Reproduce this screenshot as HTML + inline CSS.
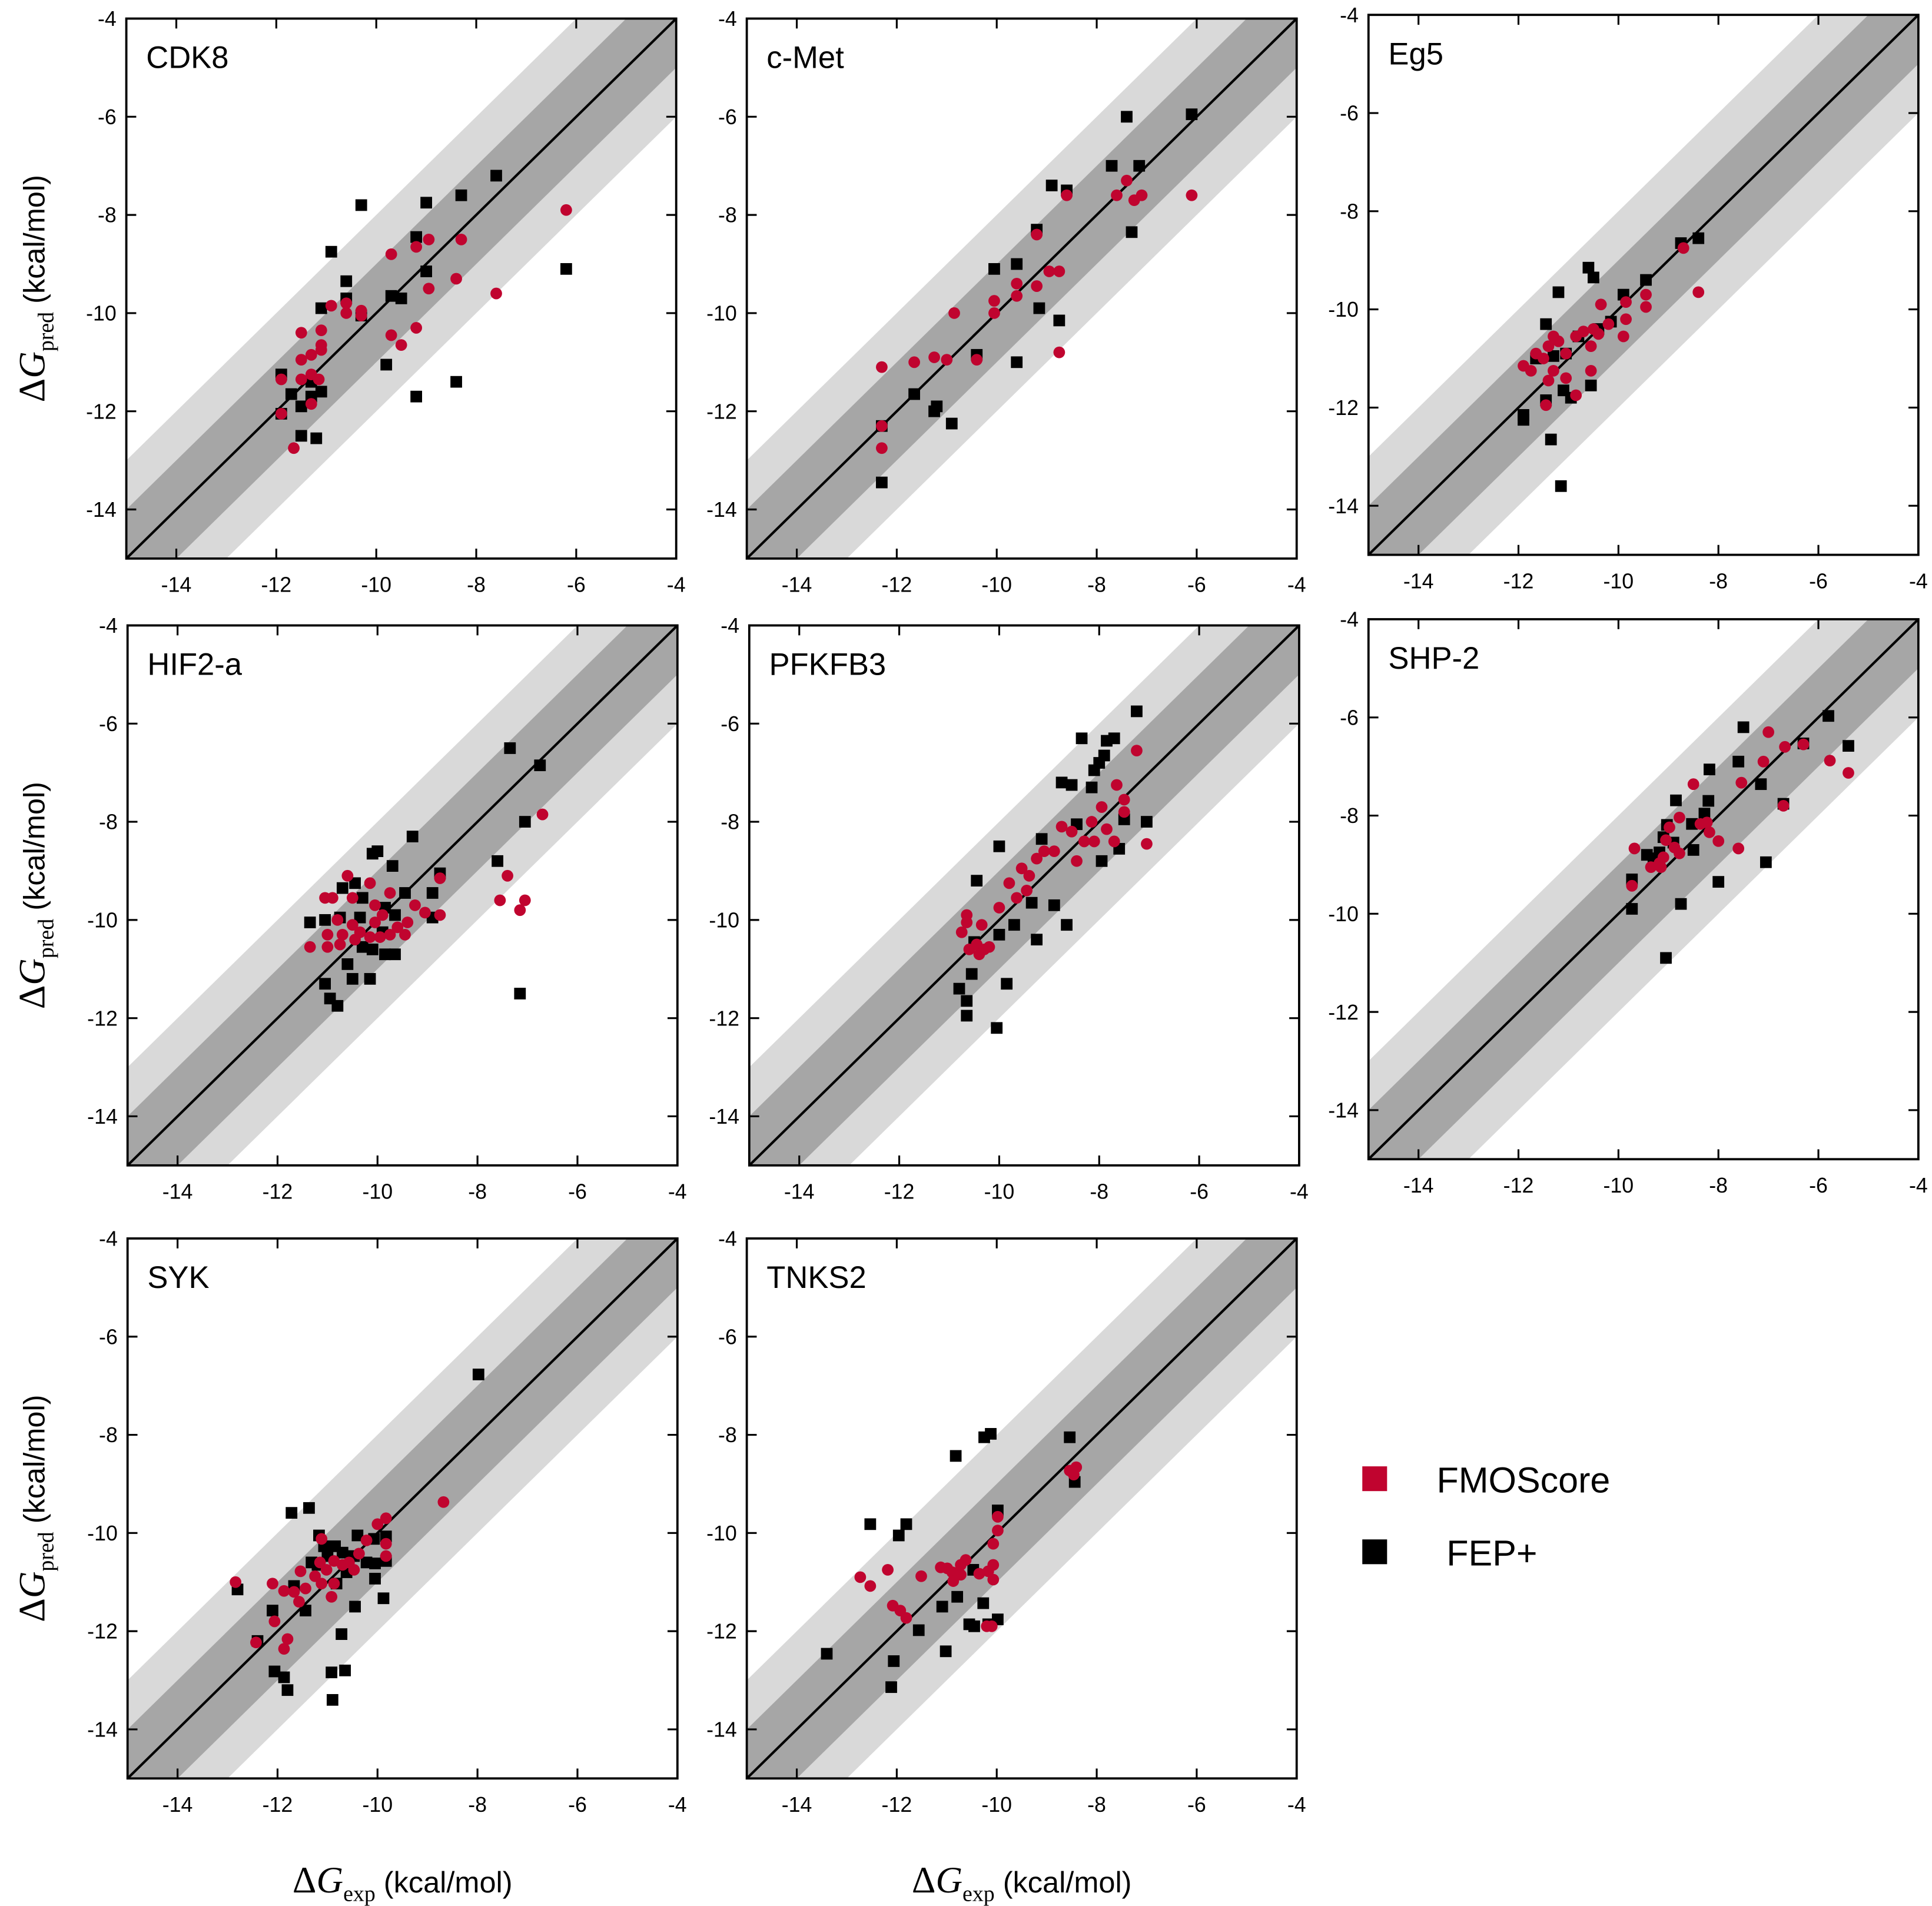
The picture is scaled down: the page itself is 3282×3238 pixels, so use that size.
<!DOCTYPE html>
<html><head><meta charset="utf-8"><style>
html,body{margin:0;padding:0;background:#fff}
svg{display:block}
</style></head><body>
<svg id="fig" xmlns="http://www.w3.org/2000/svg" width="3282" height="3238" viewBox="0 0 1560 1539" preserveAspectRatio="none">
<rect x="0" y="0" width="1560" height="1539" fill="#fff"/>
<g>
<rect x="1100" y="1184" width="20" height="20" fill="#c0042f"/>
<text x="1160" y="1205" font-family="Liberation Sans, sans-serif" font-size="29">FMOScore</text>
<rect x="1100" y="1243" width="20" height="20" fill="#000"/>
<text x="1168" y="1255" font-family="Liberation Sans, sans-serif" font-size="29" dy="9">FEP+</text>
</g>
</svg>
<script>
const ticks = [-14,-12,-10,-8,-6,-4];
const tickLabelsY = [-4,-6,-8,-10,-12,-14];
const panelNames = ["CDK8","c-Met","Eg5","HIF2-a","PFKFB3","SHP-2","SYK","TNKS2"];

const cdk8Fep = [[-7.6,-7.2],[-8.3,-7.6],[-10.3,-7.8],[-9.0,-7.75],[-9.2,-8.45],[-10.9,-8.75],[-10.6,-9.35],[-10.6,-9.7],[-9.0,-9.15],[-9.7,-9.65],[-9.5,-9.7],[-11.1,-9.9],[-9.8,-11.05],[-9.2,-11.7],[-8.4,-11.4],[-6.2,-9.1],[-11.9,-11.25],[-11.7,-11.65],[-11.1,-11.6],[-11.5,-11.9],[-11.3,-11.7],[-11.5,-12.5],[-11.2,-12.55],[-11.9,-12.05],[-11.3,-11.4],[-10.3,-10.05]];
const cdk8Fmo = [[-6.2,-7.9],[-7.6,-9.6],[-8.3,-8.5],[-8.95,-8.5],[-9.2,-8.65],[-9.7,-8.8],[-8.95,-9.5],[-8.4,-9.3],[-9.2,-10.3],[-9.7,-10.45],[-9.5,-10.65],[-10.3,-9.95],[-10.3,-10.05],[-10.6,-10.0],[-10.9,-9.85],[-10.6,-9.8],[-11.1,-10.35],[-11.5,-10.4],[-11.1,-10.65],[-11.3,-10.85],[-11.1,-10.75],[-11.5,-10.95],[-11.5,-11.35],[-11.3,-11.25],[-11.15,-11.35],[-11.9,-11.35],[-11.9,-12.05],[-11.3,-11.85],[-11.65,-12.75]];

const cmetFep = [[-6.1,-5.95],[-7.4,-6.0],[-7.7,-7.0],[-7.15,-7.0],[-7.3,-8.35],[-8.6,-7.5],[-8.9,-7.4],[-9.2,-8.3],[-10.05,-9.1],[-9.6,-9.0],[-9.15,-9.9],[-8.75,-10.15],[-9.6,-11.0],[-10.4,-10.85],[-11.65,-11.65],[-11.2,-11.9],[-11.25,-12.0],[-10.9,-12.25],[-12.3,-12.3],[-12.3,-13.45]];
const cmetFmo = [[-6.1,-7.6],[-7.1,-7.6],[-7.25,-7.7],[-7.4,-7.3],[-7.6,-7.6],[-8.6,-7.6],[-9.2,-8.4],[-8.95,-9.15],[-8.75,-9.15],[-9.6,-9.4],[-9.6,-9.65],[-9.2,-9.45],[-10.05,-9.75],[-10.05,-10.0],[-8.75,-10.8],[-10.85,-10.0],[-10.4,-10.95],[-11.25,-10.9],[-11.0,-10.95],[-11.65,-11.0],[-12.3,-11.1],[-12.3,-12.3],[-12.3,-12.75]];

const eg5Fep = [[-8.4,-8.55],[-8.75,-8.65],[-10.6,-9.15],[-10.5,-9.35],[-11.2,-9.65],[-9.9,-9.7],[-9.45,-9.4],[-10.4,-10.4],[-10.15,-10.25],[-11.45,-10.3],[-10.8,-10.55],[-11.05,-10.9],[-11.3,-10.95],[-11.65,-11.0],[-10.55,-11.55],[-11.1,-11.65],[-10.95,-11.8],[-11.45,-11.85],[-11.9,-12.15],[-11.9,-12.25],[-11.35,-12.65],[-11.15,-13.6]];
const eg5Fmo = [[-8.4,-9.65],[-8.7,-8.75],[-9.45,-9.7],[-9.45,-9.95],[-9.85,-9.85],[-9.85,-10.2],[-9.9,-10.55],[-10.35,-9.9],[-10.2,-10.3],[-10.4,-10.5],[-10.5,-10.4],[-10.7,-10.45],[-10.85,-10.55],[-10.55,-10.75],[-11.05,-10.9],[-11.3,-10.55],[-11.2,-10.65],[-11.4,-10.75],[-11.65,-10.9],[-11.9,-11.15],[-11.5,-11.0],[-11.3,-11.25],[-11.4,-11.45],[-11.05,-11.4],[-10.55,-11.25],[-10.85,-11.75],[-11.45,-11.95],[-11.75,-11.25]];

const hifFep = [[-7.35,-6.5],[-6.75,-6.85],[-7.05,-8.0],[-7.6,-8.8],[-7.15,-11.5],[-9.3,-8.3],[-10.1,-8.65],[-10.0,-8.6],[-8.75,-9.05],[-9.7,-8.9],[-10.45,-9.25],[-10.7,-9.35],[-8.9,-9.45],[-9.45,-9.45],[-10.3,-9.55],[-9.85,-9.75],[-9.65,-9.9],[-10.35,-9.95],[-10.75,-9.95],[-11.05,-10.0],[-11.35,-10.05],[-9.9,-10.25],[-10.1,-10.6],[-9.85,-10.7],[-9.65,-10.7],[-10.3,-10.55],[-10.6,-10.9],[-10.5,-11.2],[-10.15,-11.2],[-11.05,-11.3],[-10.95,-11.6],[-10.8,-11.75],[-8.9,-9.95]];
const hifFmo = [[-6.7,-7.85],[-7.4,-9.1],[-7.55,-9.6],[-7.05,-9.6],[-7.15,-9.8],[-8.75,-9.15],[-8.75,-9.9],[-9.25,-9.7],[-9.4,-10.05],[-9.6,-10.15],[-9.45,-10.3],[-9.75,-10.3],[-10.05,-10.05],[-10.35,-10.25],[-10.5,-10.1],[-10.8,-10.0],[-10.7,-10.3],[-11.0,-10.3],[-11.05,-9.55],[-10.9,-9.55],[-10.5,-9.55],[-10.6,-9.1],[-10.15,-9.25],[-9.75,-9.45],[-10.05,-9.7],[-11.35,-10.55],[-11.0,-10.55],[-10.75,-10.5],[-10.45,-10.4],[-10.15,-10.35],[-9.95,-10.35],[-9.05,-9.85],[-9.9,-9.9]];

const pfkFep = [[-7.25,-5.75],[-7.7,-6.3],[-8.35,-6.3],[-7.85,-6.35],[-7.9,-6.65],[-8.0,-6.8],[-8.1,-6.95],[-8.15,-7.3],[-8.75,-7.2],[-8.55,-7.25],[-7.05,-8.0],[-7.5,-7.95],[-8.45,-8.05],[-7.95,-8.8],[-7.6,-8.55],[-9.15,-8.35],[-10.0,-8.5],[-10.45,-9.2],[-8.65,-10.1],[-8.9,-9.7],[-9.35,-9.65],[-9.7,-10.1],[-9.25,-10.4],[-10.0,-10.3],[-10.5,-10.45],[-10.55,-11.1],[-10.8,-11.4],[-10.65,-11.65],[-10.65,-11.95],[-9.85,-11.3],[-10.05,-12.2]];
const pfkFmo = [[-7.25,-6.55],[-7.05,-8.45],[-7.65,-7.25],[-7.5,-7.55],[-7.5,-7.8],[-7.95,-7.7],[-7.85,-8.15],[-7.7,-8.4],[-8.1,-8.4],[-8.3,-8.4],[-8.15,-8.0],[-8.55,-8.2],[-8.75,-8.1],[-8.45,-8.8],[-8.9,-8.6],[-9.1,-8.6],[-9.25,-8.75],[-9.4,-9.1],[-9.55,-8.95],[-9.8,-9.25],[-9.45,-9.4],[-9.65,-9.55],[-10.0,-9.75],[-10.35,-10.1],[-10.65,-9.9],[-10.65,-10.05],[-10.75,-10.25],[-10.45,-10.5],[-10.3,-10.6],[-10.6,-10.6],[-10.4,-10.7],[-10.2,-10.55]];

const shpFep = [[-5.8,-5.97],[-5.4,-6.58],[-6.3,-6.53],[-7.5,-6.2],[-7.6,-6.9],[-7.15,-7.36],[-6.7,-7.76],[-7.05,-8.95],[-8.18,-7.06],[-8.2,-7.7],[-8.28,-7.96],[-8.53,-8.17],[-8.85,-7.69],[-9.03,-8.19],[-9.1,-8.44],[-8.9,-8.55],[-8.5,-8.7],[-8.0,-9.35],[-8.75,-9.8],[-9.18,-8.75],[-9.43,-8.8],[-9.73,-9.3],[-9.73,-9.9],[-9.05,-10.9],[-9.3,-8.87]];
const shpFmo = [[-7.0,-6.3],[-6.67,-6.6],[-6.3,-6.55],[-5.77,-6.88],[-5.4,-7.13],[-7.1,-6.9],[-7.54,-7.33],[-8.5,-7.36],[-6.7,-7.8],[-7.6,-8.67],[-8.0,-8.52],[-8.18,-8.34],[-8.36,-8.17],[-8.23,-8.14],[-8.78,-8.04],[-8.98,-8.24],[-9.05,-8.5],[-8.88,-8.65],[-8.78,-8.77],[-9.1,-8.85],[-9.18,-8.97],[-9.35,-9.05],[-9.68,-8.67],[-9.73,-9.43],[-9.15,-9.05]];

const sykFep = [[-7.98,-6.77],[-11.37,-9.49],[-11.72,-9.59],[-12.8,-11.15],[-12.4,-12.2],[-12.1,-11.58],[-12.06,-12.82],[-11.87,-12.94],[-11.8,-13.2],[-10.9,-13.4],[-10.92,-12.84],[-10.65,-12.8],[-10.72,-12.06],[-9.88,-11.33],[-10.45,-11.5],[-9.83,-10.07],[-10.07,-10.12],[-10.4,-10.05],[-10.47,-10.47],[-10.7,-10.4],[-10.85,-10.27],[-11.07,-10.27],[-11.17,-10.05],[-11.0,-10.47],[-11.32,-10.6],[-11.2,-10.65],[-10.62,-10.8],[-10.82,-11.03],[-10.22,-10.6],[-10.05,-10.62],[-11.44,-11.58],[-11.67,-11.08],[-9.83,-10.57],[-10.05,-10.93]];
const sykFmo = [[-8.68,-9.37],[-9.83,-9.7],[-10.0,-9.82],[-9.83,-10.22],[-9.83,-10.47],[-10.22,-10.15],[-10.37,-10.42],[-10.47,-10.75],[-10.57,-10.6],[-10.7,-10.65],[-10.87,-10.57],[-11.02,-10.75],[-10.87,-11.03],[-10.92,-11.3],[-11.12,-11.03],[-11.15,-10.6],[-11.25,-10.88],[-11.44,-11.13],[-11.54,-10.78],[-11.67,-11.2],[-11.87,-11.18],[-12.1,-11.03],[-12.06,-11.8],[-11.8,-12.16],[-11.87,-12.36],[-12.43,-12.23],[-12.84,-11.0],[-11.12,-10.12],[-11.57,-11.4]];

const tnksFep = [[-10.12,-7.98],[-10.25,-8.05],[-10.82,-8.43],[-8.54,-8.05],[-8.44,-8.96],[-9.98,-9.54],[-12.53,-9.82],[-11.81,-9.82],[-11.96,-10.05],[-13.4,-12.46],[-12.06,-12.61],[-12.11,-13.14],[-11.56,-11.98],[-11.02,-12.41],[-11.09,-11.5],[-10.79,-11.3],[-10.47,-10.75],[-10.27,-11.43],[-10.55,-11.86],[-10.17,-11.86],[-9.98,-11.76],[-10.45,-11.9]];
const tnksFmo = [[-8.46,-8.81],[-8.54,-8.73],[-8.41,-8.66],[-9.98,-9.67],[-9.98,-9.95],[-10.07,-10.22],[-10.07,-10.65],[-10.07,-10.95],[-10.17,-10.78],[-10.35,-10.83],[-10.62,-10.55],[-10.72,-10.65],[-10.72,-10.85],[-10.89,-10.8],[-10.99,-10.72],[-11.12,-10.7],[-10.87,-10.98],[-11.51,-10.88],[-12.18,-10.75],[-12.08,-11.48],[-11.93,-11.58],[-11.81,-11.73],[-12.73,-10.9],[-12.53,-11.08],[-10.2,-11.9],[-10.1,-11.9]];

const fepSets = [cdk8Fep,cmetFep,eg5Fep,hifFep,pfkFep,shpFep,sykFep,tnksFep];
const fmoSets = [cdk8Fmo,cmetFmo,eg5Fmo,hifFmo,pfkFmo,shpFmo,sykFmo,tnksFmo];

const NS = "http://www.w3.org/2000/svg";
const svg = document.getElementById('fig');
const layout = [[102,15],[603,15],[1105,12],[103,505],[605,505],[1105,500],[103,1000],[603,1000]];
const PW = 444, PH = 436, VMIN = -15, VMAX = -4;
const RED = "#c0042f";
const slug = n => n.toLowerCase().replace(/[^a-z0-9]+/g,'-');

function mk(tag, attrs, parent){
  const e = document.createElementNS(NS, tag);
  for (const k in attrs) e.setAttribute(k, attrs[k]);
  parent.appendChild(e);
  return e;
}

panelNames.forEach((name, i) => {
  const [x0, y0] = layout[i];
  const sx = v => x0 + (v - VMIN) / (VMAX - VMIN) * PW;
  const sy = v => y0 + (VMAX - v) / (VMAX - VMIN) * PH;
  const s = slug(name);
  const g = mk('g', {}, svg);
  
  
  const cid = 'clip' + i;
  const cp = mk('clipPath', {id: cid}, g);
  mk('rect', {x: x0, y: y0, width: PW, height: PH}, cp);
  const inner = mk('g', {'clip-path': 'url(#' + cid + ')'}, g);
  const band = (d, fill, nm) => {
    const p = mk('polygon', {
      points: [[VMIN, VMIN + d], [VMAX, VMAX + d], [VMAX, VMAX - d], [VMIN, VMIN - d]].map(q => sx(q[0]) + ',' + sy(q[1])).join(' '),
      fill: fill
    }, inner);
    
    
  };
  band(2, '#d9d9d9', 'band-2kcal');
  band(1, '#a6a6a6', 'band-1kcal');
  const dl = mk('line', {x1: sx(VMIN), y1: sy(VMIN), x2: sx(VMAX), y2: sy(VMAX), stroke: '#000', 'stroke-width': 2}, inner);
  
  
  fepSets[i].forEach(p => {
    const r = mk('rect', {x: sx(p[0]) - 4.7, y: sy(p[1]) - 4.7, width: 9.4, height: 9.4, fill: '#000'}, inner);
    
    
  });
  fmoSets[i].forEach(p => {
    const c = mk('circle', {cx: sx(p[0]), cy: sy(p[1]), r: 4.7, fill: RED}, inner);
    
    
  });
  const fr = mk('rect', {x: x0, y: y0, width: PW, height: PH, fill: 'none', stroke: '#000', 'stroke-width': 1.8}, g);
  
  
  ticks.forEach(t => {
    const X = sx(t), Y = sy(t);
    if (t > VMIN && t < VMAX) {
      mk('line', {x1: X, y1: y0 + PH, x2: X, y2: y0 + PH - 8, stroke: '#000', 'stroke-width': 1.5}, g);
      mk('line', {x1: X, y1: y0, x2: X, y2: y0 + 8, stroke: '#000', 'stroke-width': 1.5}, g);
      mk('line', {x1: x0, y1: Y, x2: x0 + 8, y2: Y, stroke: '#000', 'stroke-width': 1.5}, g);
      mk('line', {x1: x0 + PW, y1: Y, x2: x0 + PW - 8, y2: Y, stroke: '#000', 'stroke-width': 1.5}, g);
    }
    const tx = mk('text', {x: X, y: y0 + PH + 27, 'text-anchor': 'middle', 'font-family': 'Liberation Sans, sans-serif', 'font-size': 17}, g);
    tx.textContent = String(t);
    
    
  });
  tickLabelsY.forEach(t => {
    const ty = mk('text', {x: x0 - 8, y: sy(t) + 6, 'text-anchor': 'end', 'font-family': 'Liberation Sans, sans-serif', 'font-size': 17}, g);
    ty.textContent = String(t);
    
    
  });
  const tt = mk('text', {x: x0 + 16, y: y0 + 40, 'font-family': 'Liberation Sans, sans-serif', 'font-size': 25}, g);
  tt.textContent = name;
  
  
  if (i % 3 === 0) {
    const cy = y0 + PH / 2;
    const yl = mk('text', {transform: 'translate(36,' + cy + ') rotate(-90)', 'text-anchor': 'middle', 'font-family': 'Liberation Sans, sans-serif', 'font-size': 24}, svg);
    
    
    yl.innerHTML = '<tspan font-family="Liberation Serif, serif" font-size="30">Δ<tspan font-style="italic">G</tspan></tspan><tspan font-family="Liberation Serif, serif" font-size="18" dy="7">pred</tspan><tspan dy="-7"> (kcal/mol)</tspan>';
  }
  if (i >= 6) {
    const xl = mk('text', {x: x0 + PW / 2, y: 1528, 'text-anchor': 'middle', 'font-family': 'Liberation Sans, sans-serif', 'font-size': 24}, svg);
    
    
    xl.innerHTML = '<tspan font-family="Liberation Serif, serif" font-size="30">Δ<tspan font-style="italic">G</tspan></tspan><tspan font-family="Liberation Serif, serif" font-size="18" dy="7">exp</tspan><tspan dy="-7"> (kcal/mol)</tspan>';
  }
});
</script>
</body></html>
